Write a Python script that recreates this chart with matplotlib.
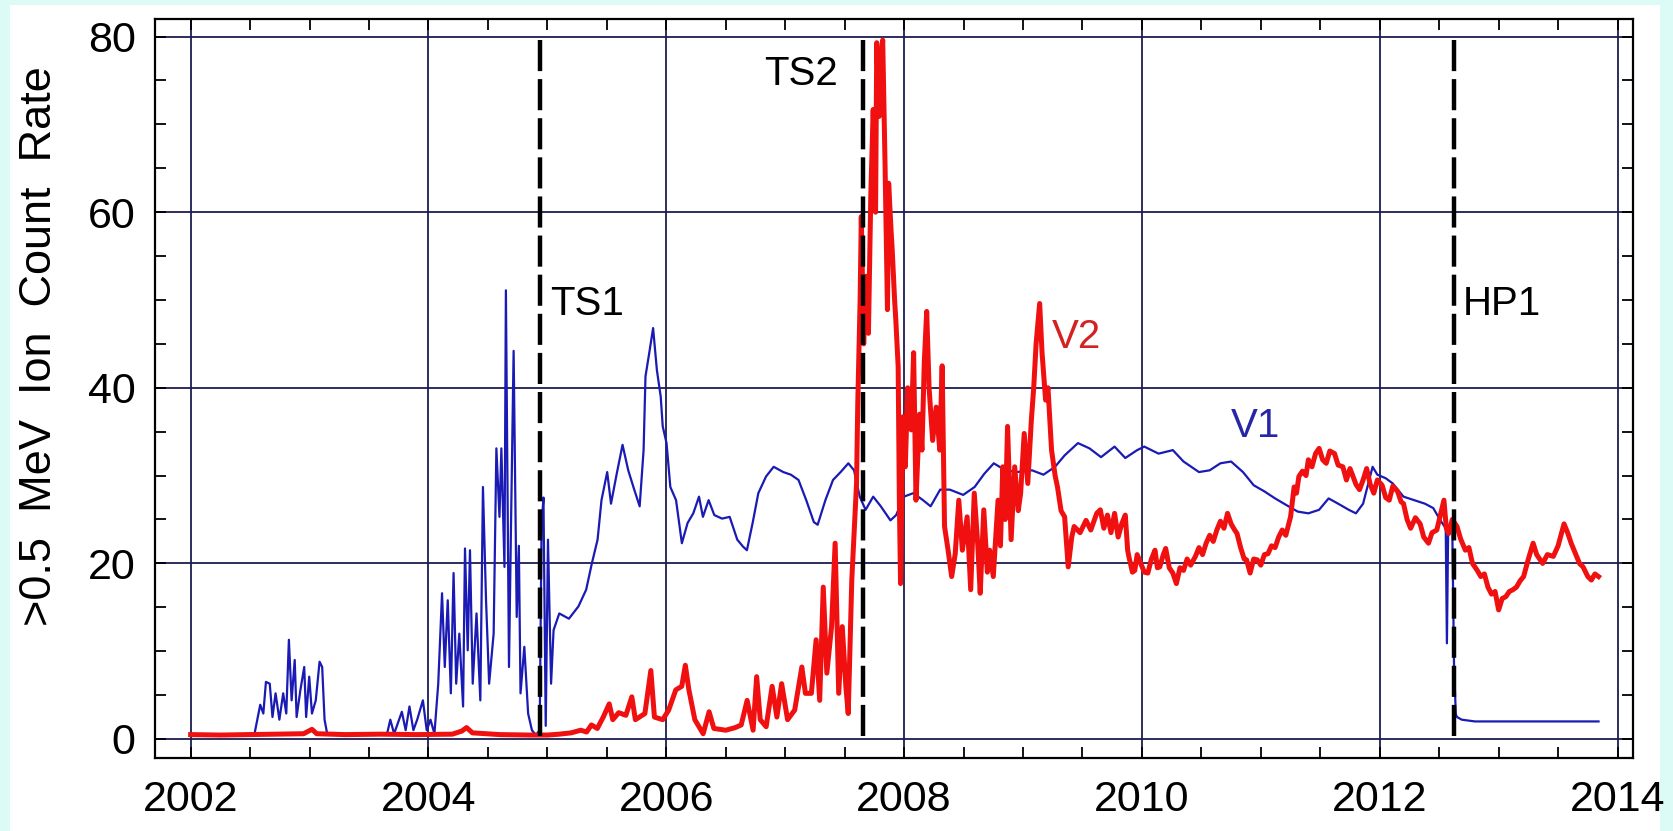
import numpy as np
import matplotlib.pyplot as plt
from matplotlib.patches import Rectangle
from matplotlib.ticker import MultipleLocator

plt.rcParams['font.family'] = ['Liberation Sans', 'DejaVu Sans']

# Voyager 1: >0.5 MeV ion count rate
v1_year = [2002.00, 2002.30, 2002.537, 2002.585, 2002.611, 2002.633, 2002.665, 2002.688, 2002.714,
           2002.746, 2002.778, 2002.804, 2002.826, 2002.849, 2002.875, 2002.891, 2002.923, 2002.955,
           2002.971, 2002.997, 2003.020, 2003.052, 2003.084, 2003.106, 2003.126, 2003.148, 2003.40,
           2003.65, 2003.679, 2003.711, 2003.776, 2003.808, 2003.840, 2003.873, 2003.905, 2003.953,
           2003.985, 2004.017, 2004.050, 2004.082, 2004.114, 2004.137, 2004.162, 2004.188, 2004.211,
           2004.233, 2004.259, 2004.291, 2004.307, 2004.330, 2004.349, 2004.372, 2004.404, 2004.436,
           2004.458, 2004.484, 2004.510, 2004.548, 2004.571, 2004.597, 2004.613, 2004.639, 2004.651,
           2004.677, 2004.693, 2004.716, 2004.742, 2004.760, 2004.774, 2004.806, 2004.838, 2004.870,
           2004.903, 2004.935, 2004.951, 2004.967, 2004.986, 2005.005, 2005.031, 2005.047,
           2005.052, 2005.100, 2005.181, 2005.261, 2005.326, 2005.374, 2005.422, 2005.455, 2005.503,
           2005.535, 2005.583, 2005.632, 2005.680, 2005.728, 2005.776, 2005.809, 2005.825, 2005.857,
           2005.889, 2005.921, 2005.953, 2005.970, 2006.002, 2006.034, 2006.082, 2006.131, 2006.179,
           2006.227, 2006.275, 2006.308, 2006.356, 2006.404, 2006.469, 2006.533, 2006.597, 2006.646,
           2006.678, 2006.726, 2006.774, 2006.839, 2006.903, 2006.984, 2007.048, 2007.112, 2007.177,
           2007.241, 2007.273, 2007.338, 2007.402, 2007.466, 2007.531, 2007.579, 2007.627, 2007.676,
           2007.740, 2007.804, 2007.885, 2007.933, 2007.998, 2008.078, 2008.159, 2008.223, 2008.303,
           2008.384, 2008.497, 2008.593, 2008.674, 2008.754, 2008.851, 2008.947, 2009.076, 2009.172,
           2009.269, 2009.350, 2009.462, 2009.559, 2009.656, 2009.77, 2009.86, 2009.96, 2010.02,
           2010.14, 2010.26, 2010.35, 2010.48, 2010.57, 2010.66, 2010.75, 2010.85, 2010.94, 2011.03,
           2011.12, 2011.22, 2011.31, 2011.40, 2011.49, 2011.57, 2011.65, 2011.74, 2011.80, 2011.86,
           2011.94, 2011.98, 2012.05, 2012.11, 2012.20, 2012.29, 2012.38, 2012.45, 2012.51, 2012.555,
           2012.565, 2012.575, 2012.61, 2012.625, 2012.64, 2012.65, 2012.69, 2012.80, 2013.00, 2013.84]
v1_rate = [0.5, 0.5, 0.6, 3.9, 2.9, 6.5, 6.3, 2.5, 5.2,
           2.2, 5.2, 2.9, 11.3, 4.4, 9.0, 2.5, 5.6, 8.2,
           2.5, 7.1, 2.9, 4.4, 8.8, 8.2, 2.2, 0.6, 0.5,
           0.5, 2.2, 0.6, 3.1, 1.0, 3.7, 1.0, 2.2, 4.4,
           1.0, 2.2, 0.6, 6.3, 16.6, 8.2, 15.8, 5.2, 18.9,
           6.3, 12.0, 3.7, 21.7, 10.1, 21.5, 6.3, 14.3, 4.4,
           28.7, 15.8, 6.3, 12.0, 33.1, 25.3, 33.1, 19.6, 51.1,
           8.2, 23.4, 44.2, 13.9, 22.0, 5.2, 10.5, 2.9, 1.0,
           0.45, 1.0, 24.2, 27.5, 1.5, 22.7, 6.3, 10.9,
           12.4, 14.3, 13.7, 15.1, 17.0, 20.0, 22.7, 27.2, 30.4,
           26.8, 30.2, 33.5, 30.6, 28.5, 26.5, 32.9, 41.3, 44.0,
           46.8, 42.0, 39.0, 35.6, 33.7, 28.7, 27.2, 22.3, 24.6,
           25.7, 27.6, 25.3, 27.2, 25.5, 25.1, 25.3, 22.7, 21.9,
           21.5, 24.6, 28.0, 29.9, 31.0, 30.4, 30.1, 29.5, 27.2,
           24.7, 24.4, 27.2, 29.5, 30.4, 31.4, 30.6, 27.6, 26.1,
           27.6, 26.5, 24.9, 25.5, 27.6, 28.0, 27.2, 26.5, 28.4,
           28.4, 27.8, 28.7, 30.2, 31.4, 30.6, 30.4, 30.6, 30.1,
           31.0, 32.3, 33.7, 33.1, 32.1, 33.3, 32.0, 32.9, 33.3,
           32.5, 32.9, 31.6, 30.4, 30.6, 31.4, 31.6, 30.4, 28.9, 28.2,
           27.4, 26.6, 25.9, 25.7, 26.1, 27.4, 26.8, 26.1, 25.7, 26.8,
           31.0, 30.1, 29.7, 29.1, 27.6, 27.2, 26.8, 26.3, 24.9, 24.0,
           10.9, 23.4, 24.2, 8.2, 2.8, 2.5, 2.2, 2.0, 2.0, 2.0]

# Voyager 2: >0.5 MeV ion count rate
v2_year = [2002.00, 2002.25, 2002.50, 2002.75, 2002.95, 2003.02, 2003.06, 2003.30, 2003.60, 2003.90,
           2004.20, 2004.28, 2004.32, 2004.37, 2004.60, 2004.85, 2005.00,
           2005.10, 2005.20, 2005.28, 2005.33, 2005.37, 2005.42, 2005.47, 2005.52, 2005.55, 2005.60,
           2005.66, 2005.71, 2005.74, 2005.82, 2005.87, 2005.90, 2005.97, 2006.02, 2006.08, 2006.13,
           2006.16, 2006.19, 2006.24, 2006.31, 2006.36, 2006.40, 2006.50, 2006.58, 2006.63, 2006.68,
           2006.73, 2006.76, 2006.79, 2006.84, 2006.89, 2006.93, 2006.97, 2007.02, 2007.08, 2007.14,
           2007.17, 2007.22, 2007.26, 2007.29, 2007.32, 2007.35, 2007.39, 2007.42, 2007.45, 2007.48,
           2007.51, 2007.53, 2007.56, 2007.60,
           2007.61, 2007.63, 2007.64, 2007.66, 2007.68, 2007.70, 2007.72, 2007.74, 2007.76, 2007.77,
           2007.79, 2007.81, 2007.82, 2007.84, 2007.86, 2007.87, 2007.89, 2007.90, 2007.92, 2007.93,
           2007.95, 2007.96, 2007.97, 2007.99,
           2008.01, 2008.03, 2008.06, 2008.08, 2008.10, 2008.13, 2008.15, 2008.17, 2008.19, 2008.21,
           2008.24, 2008.27, 2008.30, 2008.32, 2008.34, 2008.37, 2008.40, 2008.43, 2008.46, 2008.49,
           2008.53, 2008.56, 2008.59, 2008.62, 2008.64, 2008.67, 2008.70, 2008.72, 2008.75, 2008.79,
           2008.81, 2008.83, 2008.85, 2008.87, 2008.90, 2008.93, 2008.96, 2008.98, 2009.01, 2009.04,
           2009.07, 2009.09, 2009.11, 2009.14, 2009.16, 2009.19, 2009.21, 2009.24, 2009.27, 2009.29,
           2009.32, 2009.35, 2009.38, 2009.41, 2009.43, 2009.48, 2009.53, 2009.57, 2009.62,
           2009.65, 2009.68, 2009.71, 2009.74, 2009.77, 2009.80, 2009.83, 2009.86, 2009.88, 2009.89,
           2009.92, 2009.94, 2009.96, 2009.99, 2010.02, 2010.05, 2010.08, 2010.11, 2010.13, 2010.15,
           2010.18, 2010.20, 2010.23, 2010.26, 2010.29, 2010.32, 2010.35, 2010.38, 2010.41, 2010.45,
           2010.48, 2010.51, 2010.54, 2010.57, 2010.60, 2010.63, 2010.66, 2010.69, 2010.72, 2010.75,
           2010.78, 2010.80, 2010.83, 2010.86, 2010.88, 2010.91, 2010.94, 2010.97, 2011.00, 2011.03,
           2011.06, 2011.09, 2011.12, 2011.15, 2011.18, 2011.21, 2011.25, 2011.28, 2011.30, 2011.32,
           2011.35, 2011.38, 2011.40, 2011.43, 2011.46, 2011.49, 2011.52, 2011.55, 2011.58, 2011.62,
           2011.65, 2011.69, 2011.72, 2011.75, 2011.77, 2011.80, 2011.83, 2011.86, 2011.89, 2011.92,
           2011.95, 2011.98, 2012.02, 2012.05, 2012.08, 2012.11, 2012.15, 2012.18, 2012.20, 2012.23,
           2012.26, 2012.30, 2012.34, 2012.37, 2012.41, 2012.44, 2012.48, 2012.51, 2012.54, 2012.56,
           2012.58, 2012.61, 2012.65, 2012.68, 2012.72, 2012.75, 2012.78, 2012.82, 2012.85, 2012.88,
           2012.91, 2012.94, 2012.97, 2013.00, 2013.03, 2013.06, 2013.09, 2013.12, 2013.15, 2013.18,
           2013.21, 2013.25, 2013.29, 2013.32, 2013.37, 2013.41, 2013.46, 2013.50, 2013.55, 2013.58,
           2013.61, 2013.65, 2013.68, 2013.71, 2013.75, 2013.78, 2013.81, 2013.84]
v2_rate = [0.5, 0.45, 0.5, 0.55, 0.6, 1.1, 0.6, 0.5, 0.55, 0.5,
           0.55, 0.9, 1.3, 0.7, 0.5, 0.45, 0.45,
           0.55, 0.7, 1.0, 0.8, 1.6, 1.2, 2.5, 4.0, 2.2, 3.0,
           2.7, 4.8, 2.2, 2.9, 7.8, 2.5, 2.2, 3.3, 5.6, 6.0,
           8.4, 5.6, 2.2, 0.6, 3.1, 1.2, 1.0, 1.3, 1.6, 4.4,
           1.0, 7.1, 2.2, 1.4, 6.0, 2.5, 6.3, 2.2, 3.3, 8.2,
           5.2, 5.2, 11.3, 4.4, 17.3, 7.5, 12.8, 22.3, 5.2, 12.8,
           6.0, 2.9, 18.1, 29.1,
           38.0, 50.0, 59.5, 45.0, 52.7, 46.2, 62.0, 71.7, 60.0, 79.3,
           70.9, 78.0, 79.6, 65.2, 48.9, 63.3, 58.0, 55.7, 50.0, 47.8,
           42.4, 27.2, 17.7, 36.7,
           31.0, 40.0, 35.2, 44.0, 27.2, 37.0, 32.9, 43.0, 48.7, 40.0,
           34.0, 37.8, 32.9, 42.5, 24.2, 21.5, 18.5, 21.1, 27.2, 21.5,
           25.3, 17.0, 28.0, 22.0, 16.6, 26.1, 19.0, 21.5, 18.5, 27.2,
           22.0, 31.0, 25.0, 35.6, 22.7, 31.0, 26.0, 28.0, 34.8, 29.1,
           36.3, 40.0, 45.0, 49.6, 44.0, 38.6, 40.0, 32.9, 30.0, 28.7,
           26.0, 25.3, 19.6, 23.0, 24.2, 23.5, 24.9, 23.8, 25.7,
           26.1, 24.0, 25.5, 23.5, 25.7, 23.0, 24.5, 25.5, 21.5, 20.8,
           19.0, 19.2, 21.0, 20.0, 19.0, 18.9, 20.5, 21.5, 19.5, 19.6,
           21.0, 21.7, 19.5, 18.9, 17.7, 19.5, 19.2, 20.5, 19.8, 20.8,
           21.8, 21.0, 22.3, 23.2, 22.5, 23.8, 24.8, 24.0, 25.7, 24.5,
           23.8, 23.4, 21.8, 20.5, 20.4, 18.9, 20.5, 20.4, 19.8, 21.0,
           21.1, 22.0, 21.8, 23.0, 23.8, 23.2, 25.3, 28.7, 28.0, 29.9,
           30.5, 30.0, 31.8, 31.0, 32.5, 33.1, 31.8, 31.4, 32.8, 32.5,
           31.2, 31.0, 29.5, 30.8, 30.1, 29.0, 28.4, 29.5, 30.8, 29.0,
           28.0, 29.5, 28.9, 27.5, 27.2, 28.8, 28.2, 27.0, 26.8, 25.0,
           24.0, 25.2, 24.5, 23.0, 22.3, 23.5, 23.8, 25.5, 27.2, 24.0,
           23.4, 25.0, 24.2, 22.8, 21.5, 21.8, 20.0, 19.2, 18.5, 18.8,
           17.3, 16.5, 16.8, 14.7, 16.0, 16.2, 16.8, 17.0, 17.3, 18.0,
           18.5, 20.5, 22.3, 21.0, 20.0, 21.0, 20.8, 22.0, 24.5, 23.5,
           22.3, 21.0, 20.0, 19.6, 18.5, 18.1, 18.8, 18.5]

# termination shock / heliopause crossings
events = ['TS1', 'TS2', 'HP1']
event_year = [2004.941, 2007.653, 2012.624]

fig = plt.figure(figsize=(16.73, 8.31), dpi=100, facecolor='#dcfaf6')
fig.patches.append(Rectangle((10 / 1673, 0), 1650 / 1673, 826 / 831,
                             transform=fig.transFigure, facecolor='white',
                             edgecolor='none', zorder=-5))

ax = fig.add_axes([155 / 1673, 73.3 / 831, 1478 / 1673, 738.7 / 831])
ax.set_facecolor('white')

ax.plot(v1_year, v1_rate, color='#1a1ab4', lw=1.6, zorder=3)
ax.plot(v2_year, v2_rate, color='#f01010', lw=3.6, zorder=4)

for yr in event_year:
    ax.plot([yr, yr], [79.6, 0], color='black', lw=3.2,
            linestyle=(0, (7.0, 1.8)), zorder=5)

ax.text(2005.02, 48.3, 'TS1', fontsize=29, ha='left', va='baseline', zorder=6)
ax.text(2007.44, 74.5, 'TS2', fontsize=29, ha='right', va='baseline', zorder=6)
ax.text(2012.70, 48.3, 'HP1', fontsize=29, ha='left', va='baseline', zorder=6)
ax.text(2009.24, 44.5, 'V2', fontsize=29, color='#d42222', ha='left', va='baseline', zorder=6)
ax.text(2010.75, 34.4, 'V1', fontsize=29, color='#2626a6', ha='left', va='baseline', zorder=6)

ax.set_xlim(2001.70, 2014.13)
ax.set_ylim(-2.13, 82.0)
ax.xaxis.set_major_locator(MultipleLocator(2))
ax.xaxis.set_minor_locator(MultipleLocator(0.5))
ax.yaxis.set_major_locator(MultipleLocator(20))
ax.yaxis.set_minor_locator(MultipleLocator(5))
ax.xaxis.set_major_formatter(plt.FuncFormatter(lambda v, p: '%d' % round(v)))

ax.set_axisbelow(True)
ax.grid(True, which='major', color='#1c1c50', lw=1.3)
ax.tick_params(which='both', direction='in', length=8, width=1.3,
               top=True, right=True, labelsize=31, colors='black')
ax.tick_params(axis='x', pad=16)
ax.tick_params(axis='y', pad=14)
for s in ax.spines.values():
    s.set_linewidth(1.6)
    s.set_color('black')

fig.text(40 / 1673, 0.583, '>0.5  MeV  Ion  Count  Rate', rotation=90,
         fontsize=32.5, ha='center', va='center')

fig.savefig('out.png', dpi=100, facecolor=fig.get_facecolor())
